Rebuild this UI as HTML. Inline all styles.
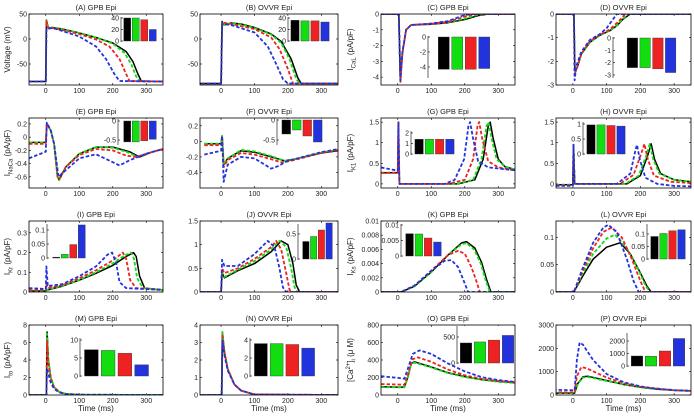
<!DOCTYPE html>
<html><head><meta charset="utf-8"><style>
html,body{margin:0;padding:0;background:#fff;}
svg{display:block;font-family:"Liberation Sans",sans-serif;}
</style></head><body>
<svg id="fig" width="694" height="417" viewBox="0 0 694 417" xmlns="http://www.w3.org/2000/svg"></svg>
<script>
// ---- data: curves [time ms, value] ----
const A_k=[[-50,-85],[0,-85],[2,38],[8,22],[20,23],[50,20],[100,12],[150,3],[200,-8],[240,-25],[260,-45],[275,-70],[285,-84],[350,-85]];
const A_g=[[-50,-85],[0,-85],[2,38],[8,22],[20,23],[50,20],[100,12],[150,3],[200,-9],[235,-28],[255,-50],[270,-75],[280,-85],[350,-85]];
const A_r=[[-50,-85],[0,-85],[2,36],[8,21],[20,22],[50,18],[100,10],[150,-1],[190,-15],[220,-40],[240,-70],[250,-84],[350,-85]];
const A_b=[[-50,-85],[0,-85],[2,20],[20,22],[50,16],[100,5],[150,-15],[180,-40],[205,-70],[220,-84],[350,-85]];
const B_k=[[-75,-89],[0,-89],[3,35],[8,28],[30,32],[60,30],[100,23],[150,10],[180,-5],[210,-40],[230,-78],[240,-89],[350,-89]];
const B_g=[[-75,-89],[0,-89],[3,34],[8,28],[30,31],[60,29],[100,22],[150,9],[180,-8],[205,-40],[225,-80],[235,-89],[350,-89]];
const B_r=[[-75,-89],[0,-89],[3,33],[30,30],[100,20],[150,3],[175,-20],[200,-60],[215,-89],[350,-89]];
const B_b=[[-75,-89],[0,-89],[3,30],[30,28],[100,13],[140,-15],[165,-50],[185,-80],[200,-89],[350,-89]];
const C_k=[[-50,0],[3,0],[8,-4.3],[14,-2.5],[25,-1.0],[40,-0.7],[100,-0.65],[150,-0.55],[200,-0.35],[240,-0.1],[270,0],[350,0]];
const C_g=[[-50,0],[3,0],[8,-4.3],[14,-2.5],[25,-1.0],[40,-0.7],[100,-0.64],[150,-0.52],[200,-0.3],[230,-0.1],[260,0],[350,0]];
const C_r=[[-50,0],[3,0],[8,-4.3],[14,-2.5],[25,-1.0],[40,-0.7],[100,-0.62],[150,-0.5],[180,-0.3],[210,-0.1],[240,0],[350,0]];
const C_b=[[-50,0],[3,0],[8,-4.2],[14,-2.4],[25,-1.0],[40,-0.7],[100,-0.6],[150,-0.45],[170,-0.3],[200,-0.05],[230,0],[350,0]];
const D_k=[[-50,0],[3,0],[6,-2.4],[12,-2.3],[25,-1.7],[50,-1.2],[80,-0.9],[110,-0.7],[130,-0.5],[150,-0.2],[170,0],[350,0]];
const D_g=[[-50,0],[3,0],[6,-2.4],[12,-2.3],[25,-1.7],[50,-1.2],[80,-0.9],[110,-0.68],[130,-0.48],[148,-0.2],[165,0],[350,0]];
const D_r=[[-50,0],[3,0],[6,-2.5],[12,-2.3],[25,-1.7],[50,-1.15],[80,-0.88],[110,-0.65],[140,-0.25],[155,0],[350,0]];
const D_b=[[-50,0],[3,0],[5,-2.8],[10,-2.2],[25,-1.6],[50,-1.1],[80,-0.85],[100,-0.6],[115,-0.3],[130,0],[350,0]];
const E_k=[[-50,-0.08],[0,-0.08],[3,0.2],[15,0.1],[25,-0.1],[35,-0.6],[40,-0.65],[60,-0.45],[100,-0.25],[150,-0.15],[200,-0.15],[250,-0.22],[280,-0.3],[320,-0.22],[350,-0.18]];
const E_g=[[-50,-0.08],[0,-0.08],[3,0.2],[15,0.1],[25,-0.1],[35,-0.6],[40,-0.65],[60,-0.45],[100,-0.25],[150,-0.15],[200,-0.16],[245,-0.23],[275,-0.3],[320,-0.22],[350,-0.18]];
const E_r=[[-50,-0.1],[0,-0.1],[3,0.2],[15,0.1],[25,-0.1],[35,-0.6],[40,-0.63],[60,-0.45],[100,-0.27],[150,-0.18],[200,-0.2],[240,-0.28],[270,-0.3],[300,-0.25],[350,-0.18]];
const E_b=[[-50,-0.32],[0,-0.22],[3,0.22],[15,0.1],[25,-0.1],[38,-0.6],[60,-0.5],[100,-0.32],[150,-0.26],[200,-0.38],[220,-0.43],[250,-0.35],[300,-0.25],[350,-0.18]];
const F_k=[[-50,-0.03],[0,-0.03],[3,0.07],[8,-0.3],[20,-0.22],[60,-0.12],[100,-0.14],[150,-0.2],[190,-0.25],[220,-0.23],[300,-0.15],[350,-0.12]];
const F_g=[[-50,-0.03],[0,-0.03],[3,0.07],[8,-0.3],[20,-0.22],[60,-0.11],[100,-0.13],[150,-0.19],[190,-0.25],[220,-0.23],[300,-0.14],[350,-0.11]];
const F_r=[[-50,-0.05],[0,-0.05],[3,0.07],[8,-0.33],[20,-0.24],[60,-0.15],[100,-0.17],[150,-0.23],[180,-0.27],[210,-0.25],[300,-0.15],[350,-0.11]];
const F_b=[[-50,-0.17],[0,-0.12],[3,0.07],[8,-0.52],[20,-0.3],[60,-0.2],[100,-0.22],[150,-0.35],[170,-0.32],[200,-0.25],[300,-0.14],[350,-0.1]];
const G_k=[[-50,0.27],[0,0.27],[2,1.5],[5,0],[180,0],[230,0.1],[255,0.6],[270,1.4],[276,1.5],[285,1.1],[300,0.6],[320,0.42],[350,0.35]];
const G_g=[[-50,0.27],[0,0.27],[2,1.5],[5,0],[175,0],[225,0.1],[250,0.6],[265,1.4],[271,1.5],[280,1.1],[295,0.6],[320,0.42],[350,0.35]];
const G_r=[[-50,0.27],[0,0.27],[2,1.5],[5,0],[150,0],[200,0.1],[225,0.6],[238,1.4],[243,1.5],[252,1.1],[270,0.55],[300,0.4],[350,0.33]];
const G_b=[[-50,0.4],[0,0.32],[2,1.5],[5,0],[140,0],[170,0.1],[198,0.6],[211,1.4],[216,1.5],[225,1.1],[240,0.55],[270,0.4],[350,0.33]];
const H_k=[[-50,-0.02],[0,-0.02],[2,0.95],[5,0],[160,0],[200,0.2],[222,0.7],[232,0.97],[242,0.6],[260,0.25],[300,0.1],[350,0.05]];
const H_g=[[-50,-0.02],[0,-0.02],[2,0.95],[5,0],[155,0],[195,0.2],[218,0.7],[228,0.97],[238,0.6],[256,0.25],[300,0.1],[350,0.05]];
const H_r=[[-50,-0.03],[0,-0.03],[2,0.95],[5,0],[140,0],[180,0.22],[203,0.75],[212,0.97],[222,0.6],[240,0.2],[290,0.05],[350,0.02]];
const H_b=[[-50,-0.05],[0,-0.05],[2,0.95],[5,0],[130,0],[170,0.25],[185,0.8],[190,0.95],[198,0.6],[215,0.15],[250,0],[300,-0.05],[350,-0.06]];
const I_k=[[-50,0.005],[0,0.005],[5,0.01],[50,0.03],[100,0.06],[150,0.095],[200,0.135],[240,0.18],[262,0.2],[270,0.18],[280,0.08],[295,0.02],[350,0.01]];
const I_g=[[-50,0.006],[0,0.006],[5,0.012],[50,0.032],[100,0.062],[150,0.1],[200,0.145],[235,0.185],[255,0.2],[263,0.17],[273,0.07],[290,0.02],[350,0.01]];
const I_r=[[-50,0.01],[0,0.01],[2,0.04],[6,0.02],[50,0.035],[100,0.07],[150,0.11],[200,0.16],[230,0.2],[240,0.17],[252,0.06],[270,0.02],[350,0.012]];
const I_b=[[-50,0.02],[0,0.015],[2,0.13],[6,0.03],[50,0.04],[100,0.08],[150,0.13],[185,0.19],[198,0.2],[210,0.15],[220,0.05],[240,0.02],[350,0.01]];
const J_k=[[-75,0],[0,0],[3,0.4],[10,0.3],[50,0.45],[100,0.6],[150,0.85],[180,1.08],[200,1.0],[215,0.6],[225,0.15],[235,0],[350,0]];
const J_g=[[-75,0],[0,0],[3,0.42],[10,0.32],[50,0.47],[100,0.65],[150,0.9],[175,1.08],[195,0.95],[210,0.5],[220,0.1],[228,0],[350,0]];
const J_r=[[-75,0],[0,0],[3,0.5],[10,0.4],[50,0.5],[100,0.7],[150,0.95],[165,1.08],[180,0.9],[195,0.4],[205,0.05],[210,0],[350,0]];
const J_b=[[-75,0],[0,0],[3,0.68],[10,0.55],[50,0.55],[100,0.8],[140,1.08],[160,0.95],[175,0.5],[185,0.1],[195,0],[350,0]];
const K_k=[[-50,0],[10,0],[50,0.0008],[100,0.0028],[150,0.0052],[190,0.0069],[205,0.0071],[230,0.0062],[250,0.0042],[265,0.0018],[278,0],[350,0]];
const K_g=[[-50,0],[10,0],[50,0.0008],[100,0.0028],[150,0.0052],[190,0.0067],[205,0.0069],[228,0.006],[248,0.004],[262,0.0017],[275,0],[350,0]];
const K_r=[[-50,0],[10,0],[50,0.0009],[100,0.003],[150,0.0052],[180,0.0058],[200,0.0054],[220,0.0035],[235,0.0015],[245,0],[350,0]];
const K_b=[[-50,0],[10,0],[50,0.0009],[100,0.003],[140,0.0044],[160,0.0045],[180,0.0035],[195,0.0018],[210,0],[350,0]];
const L_k=[[-75,0],[3,0],[30,0.03],[60,0.06],[100,0.082],[140,0.09],[170,0.07],[200,0.035],[220,0.01],[232,0],[350,0]];
const L_g=[[-75,0],[3,0],[30,0.035],[60,0.07],[100,0.098],[125,0.105],[160,0.08],[195,0.04],[215,0.012],[228,0],[350,0]];
const L_r=[[-75,0],[3,0],[30,0.04],[60,0.08],[90,0.11],[115,0.118],[145,0.1],[175,0.06],[200,0.02],[215,0],[350,0]];
const L_b=[[-75,0],[3,0],[30,0.045],[60,0.09],[90,0.118],[105,0.123],[130,0.11],[160,0.06],[180,0.02],[195,0],[350,0]];
const M_k=[[-50,0],[2,0],[4,7.2],[8,4],[15,2],[25,0.9],[40,0.35],[60,0.12],[100,0.03],[350,0]];
const M_g=[[-50,0],[2,0],[4,7.0],[8,3.9],[15,2],[25,0.9],[40,0.35],[60,0.12],[100,0.03],[350,0]];
const M_r=[[-50,0],[2,0],[4,6.2],[8,3.6],[15,1.9],[25,0.85],[40,0.33],[60,0.12],[100,0.03],[350,0]];
const M_b=[[-50,0],[2,0],[4,3.0],[8,2.4],[15,1.4],[25,0.7],[40,0.3],[60,0.1],[100,0.03],[350,0]];
const N_k=[[-75,0],[2,0],[4,3.6],[10,2.5],[20,1.5],[40,0.6],[60,0.25],[100,0.03],[350,0]];
const N_g=[[-75,0],[2,0],[4,3.6],[10,2.5],[20,1.5],[40,0.6],[60,0.25],[100,0.03],[350,0]];
const N_r=[[-75,0],[2,0],[4,3.5],[10,2.45],[20,1.5],[40,0.6],[60,0.25],[100,0.03],[350,0]];
const N_b=[[-75,0],[2,0],[4,3.1],[10,2.3],[20,1.4],[40,0.6],[60,0.25],[100,0.03],[350,0]];
const O_k=[[-50,95],[0,90],[20,90],[30,200],[40,360],[50,380],[100,320],[150,255],[200,210],[250,175],[300,155],[350,140]];
const O_g=[[-50,90],[0,88],[20,88],[30,200],[40,350],[50,370],[100,315],[150,250],[200,205],[300,150],[350,138]];
const O_r=[[-50,125],[0,120],[20,115],[30,230],[45,410],[60,430],[100,380],[150,290],[200,225],[250,185],[300,160],[350,145]];
const O_b=[[-50,215],[0,195],[20,185],[30,300],[45,470],[65,510],[100,470],[150,360],[200,270],[250,205],[300,170],[350,150]];
const P_k=[[-75,80],[0,80],[5,80],[15,500],[30,780],[45,800],[100,620],[150,450],[200,330],[250,250],[300,200],[350,175]];
const P_g=[[-75,80],[5,80],[15,480],[30,750],[45,770],[100,600],[200,320],[300,195],[350,172]];
const P_r=[[-75,120],[5,110],[12,800],[25,1200],[40,1150],[100,750],[150,500],[200,350],[300,200],[350,175]];
const P_b=[[-75,230],[5,200],[12,1500],[20,2250],[30,2150],[60,1500],[100,900],[150,550],[200,370],[250,260],[300,210],[350,180]];
// ---- inset bar values (black, green, red, blue) ----
const A_bars=[40,40,37,20], B_bars=[36,35,35,33], C_bars=[-4.3,-4.3,-4.3,-4.2], D_bars=[-2.4,-2.4,-2.5,-2.8];
const E_bars=[-0.55,-0.55,-0.52,-0.48], F_bars=[-0.35,-0.25,-0.4,-0.55], G_bars=[1.4,1.4,1.4,1.4], H_bars=[0.97,0.97,0.95,0.93];
const I_bars=[0.003,0.013,0.048,0.118], J_bars=[0.35,0.45,0.58,0.72], K_bars=[0.0072,0.0071,0.0058,0.0045], L_bars=[0.09,0.102,0.113,0.117];
const M_bars=[7.3,7.1,6.3,3.1], N_bars=[3.6,3.6,3.5,3.1], O_bars=[385,405,440,530], P_bars=[800,780,1200,2200];
const xTicks=[0,100,200,300];

const NS="http://www.w3.org/2000/svg";
const svg=document.getElementById('fig');
function mk(tag,attrs,parent){const e=document.createElementNS(NS,tag);for(const k in attrs)e.setAttribute(k,attrs[k]);(parent||svg).appendChild(e);return e;}
const cols=[[29,163,-50,350],[200,338,-63,350],[381,515,-50,350],[556,691,-50,350]];
const rows=[[14,85],[118,188],[221,292],[325,395]];
const colors=['#000000','#11dd11','#ee2222','#2233dd'];
const names=['black','green','red','blue'];
const panels=[
{id:'A',t:'(A) GPB Epi',c:0,r:0,y0:-92,y1:50,yt:[-50,0,50],yl:['Voltage (mV)'],s:[A_k,A_g,A_r,A_b],b:A_bars,ax:121,bx:[123,157],iv:[0,41,40,18],ib:[17,42],it:[0,20,40]},
{id:'B',t:'(B) OVVR Epi',c:1,r:0,y0:-92,y1:50,yt:[-50,0,50],s:[B_k,B_g,B_r,B_b],b:B_bars,ax:288,bx:[290,330],iv:[0,41,40,18],ib:[17,42],it:[0,20,40]},
{id:'C',t:'(C) GPB Epi',c:2,r:0,y0:-4.5,y1:0,yt:[-4,-3,-2,-1,0],yl:['I','CaL',' (pA/pF)'],s:[C_k,C_g,C_r,C_b],b:C_bars,ax:428,bx:[437,491],iv:[0,37,-4,67],ib:[36,78],it:[0,-2,-4]},
{id:'D',t:'(D) OVVR Epi',c:3,r:0,y0:-3,y1:0,yt:[-3,-2,-1,0],s:[D_k,D_g,D_r,D_b],b:D_bars,ax:613,bx:[626,677],iv:[0,38,-3,75],ib:[37,78],it:[0,-1,-2,-3]},
{id:'E',t:'(E) GPB Epi',c:0,r:1,y0:-0.77,y1:0.29,yt:[-0.6,-0.4,-0.2,0,0.2],yl:['I','NaCa',' (pA/pF)'],s:[E_k,E_g,E_r,E_b],b:E_bars,ax:118,bx:[123,157],iv:[0,121,-0.5,140],ib:[119,145],it:[0,-0.5]},
{id:'F',t:'(F) OVVR Epi',c:1,r:1,y0:-0.6,y1:0.3,yt:[-0.4,-0.2,0,0.2],s:[F_k,F_g,F_r,F_b],b:F_bars,ax:277,bx:[281,323],iv:[0,120,-0.5,140],ib:[119,145],it:[0,-0.5]},
{id:'G',t:'(G) GPB Epi',c:2,r:1,y0:-0.1,y1:1.6,yt:[0,0.5,1,1.5],yl:['I','K1',' (pA/pF)'],s:[G_k,G_g,G_r,G_b],b:G_bars,ax:411,bx:[414,455],iv:[0,154,2,133],ib:[131,155],it:[0,1,2]},
{id:'H',t:'(H) OVVR Epi',c:3,r:1,y0:-0.1,y1:1.6,yt:[0,0.5,1,1.5],s:[H_k,H_g,H_r,H_b],b:H_bars,ax:583,bx:[586,626],iv:[0,154,1,124],ib:[122,155],it:[0,0.5,1]},
{id:'I',t:'(I) GPB Epi',c:0,r:2,y0:0,y1:0.36,yt:[0,0.1,0.2,0.3],yl:['I','Kr',' (pA/pF)'],s:[I_k,I_g,I_r,I_b],b:I_bars,ax:47,bx:[52,86],iv:[0,258,0.1,230],ib:[224,259],it:[0,0.05,0.1]},
{id:'J',t:'(J) OVVR Epi',c:1,r:2,y0:0,y1:1.5,yt:[0,0.5,1,1.5],s:[J_k,J_g,J_r,J_b],b:J_bars,ax:298,bx:[302,333],iv:[0,259,0.5,234],ib:[224,260],it:[0,0.5]},
{id:'K',t:'(K) GPB Epi',c:2,r:2,y0:0,y1:0.01,yt:[0,0.002,0.004,0.006,0.008,0.01],yl:['I','Ks',' (pA/pF)'],s:[K_k,K_g,K_r,K_b],b:K_bars,ax:401,bx:[405,442],iv:[0,256,0.01,225],ib:[224,257],it:[0,0.005,0.01]},
{id:'L',t:'(L) OVVR Epi',c:3,r:2,y0:0,y1:0.13,yt:[0,0.05,0.1],s:[L_k,L_g,L_r,L_b],b:L_bars,ax:647,bx:[650,686],iv:[0,259,0.1,234],ib:[224,260],it:[0,0.05,0.1]},
{id:'M',t:'(M) GPB Epi',c:0,r:3,y0:0,y1:8,yt:[0,2,4,6,8],yl:['I','to',' (pA/pF)'],s:[M_k,M_g,M_r,M_b],b:M_bars,ax:80,bx:[83,150],iv:[0,376,10,340],ib:[338,377],it:[0,5,10]},
{id:'N',t:'(N) OVVR Epi',c:1,r:3,y0:0,y1:4,yt:[0,1,2,3,4],s:[N_k,N_g,N_r,N_b],b:N_bars,ax:250,bx:[253,316],iv:[0,376,4,340],ib:[338,377],it:[0,2,4]},
{id:'O',t:'(O) GPB Epi',c:2,r:3,y0:0,y1:800,yt:[0,200,400,600,800],yl:['[Ca','2+',']','i',' (\u03bc M)'],s:[O_k,O_g,O_r,O_b],b:O_bars,ax:457,bx:[459,515],iv:[0,363,500,337],ib:[326,364],it:[0,500]},
{id:'P',t:'(P) OVVR Epi',c:3,r:3,y0:0,y1:3000,yt:[0,1000,2000,3000],s:[P_k,P_g,P_r,P_b],b:P_bars,ax:627,bx:[630,686],iv:[0,366,2000,341],ib:[333,367],it:[0,1000,2000]}
];
const fmt=v=>String(+v.toFixed(4));
panels.forEach(p=>{
  const [L,R,xmin,xmax]=cols[p.c];const [T,B]=rows[p.r];
  const X=t=>L+(t-xmin)/(xmax-xmin)*(R-L);
  const Y=v=>B-(v-p.y0)/(p.y1-p.y0)*(B-T);
  const g=mk('g',{});
  
  
  const cp=mk('clipPath',{id:'cp'+p.id},g);mk('rect',{x:L,y:T,width:R-L,height:B-T},cp);
  const title=mk('text',{x:(L+R)/2,y:T-4,'text-anchor':'middle','font-size':'7.5',fill:'#222'},g);title.textContent=p.t;
  
  xTicks.forEach(t=>{const x=X(t);mk('line',{x1:x,x2:x,y1:B,y2:B-2,stroke:'#000','stroke-width':0.6},g);mk('line',{x1:x,x2:x,y1:T,y2:T+2,stroke:'#000','stroke-width':0.6},g);
    const tx=mk('text',{x:x,y:B+8,'text-anchor':'middle','font-size':'7',fill:'#222'},g);tx.textContent=t;
    });
  p.yt.forEach(v=>{const y=Y(v);mk('line',{x1:L,x2:L+2,y1:y,y2:y,stroke:'#000','stroke-width':0.6},g);mk('line',{x1:R,x2:R-2,y1:y,y2:y,stroke:'#000','stroke-width':0.6},g);
    const ty=mk('text',{x:L-2,y:y+2.5,'text-anchor':'end','font-size':'7',fill:'#222'},g);ty.textContent=fmt(v);
    });
  const cg=mk('g',{'clip-path':'url(#cp'+p.id+')'},g);
  p.s.forEach((ser,i)=>{
    const d=ser.map((pt,j)=>(j?'L':'M')+X(pt[0]).toFixed(1)+' '+Y(pt[1]).toFixed(1)).join(' ');
    const path=mk('path',{d:d,fill:'none',stroke:colors[i],'stroke-width':i?1.8:1.5,'stroke-dasharray':i?'3.5,2':'none','stroke-linejoin':'round'},cg);
    
    
  });
  // inset
  const [v0,py0,v1,py1]=p.iv;const IY=v=>py0+(v-v0)/(v1-v0)*(py1-py0);
  const ig=mk('g',{},g);
  
  
  mk('rect',{x:p.ax,y:p.ib[0],width:p.bx[1]-p.ax+2,height:p.ib[1]-p.ib[0],fill:'#fff'},ig);
  mk('line',{x1:p.ax,x2:p.ax,y1:p.ib[0],y2:p.ib[1],stroke:'#000','stroke-width':0.6},ig);
  p.it.forEach(v=>{const y=IY(v);mk('line',{x1:p.ax,x2:p.ax+2,y1:y,y2:y,stroke:'#000','stroke-width':0.6},ig);
    const tl=mk('text',{x:p.ax-2,y:y+2.5,'text-anchor':'end','font-size':'7',fill:'#222'},ig);tl.textContent=fmt(v);
    });
  const slot=(p.bx[1]-p.bx[0])/4,bw=slot*0.82;
  p.b.forEach((v,i)=>{const ya=IY(0),yb=IY(v);
    const r=mk('rect',{x:p.bx[0]+i*slot+(slot-bw)/2,y:Math.min(ya,yb),width:bw,height:Math.abs(yb-ya),fill:colors[i],stroke:'#333','stroke-width':0.4},ig);
    
    });
  mk('rect',{x:L,y:T,width:R-L,height:B-T,fill:'none',stroke:'#000','stroke-width':0.8},g);
  if(p.yl){const lx=p.c===0?10:353,ly=(T+B)/2;
    const yl=mk('text',{x:lx,y:ly,transform:'rotate(-90 '+lx+' '+ly+')','text-anchor':'middle','font-size':'8',fill:'#222'},g);
    
    if(p.yl.length===1)yl.textContent=p.yl[0];
    else if(p.yl.length===3){const a=mk('tspan',{},yl);a.textContent=p.yl[0];const b=mk('tspan',{dy:2.5,'font-size':'6'},yl);b.textContent=p.yl[1];const c=mk('tspan',{dy:-2.5},yl);c.textContent=p.yl[2];}
    else{const a=mk('tspan',{},yl);a.textContent=p.yl[0];const b=mk('tspan',{dy:-3,'font-size':'6'},yl);b.textContent=p.yl[1];const c=mk('tspan',{dy:3},yl);c.textContent=p.yl[2];const d=mk('tspan',{dy:2.5,'font-size':'6'},yl);d.textContent=p.yl[3];const e=mk('tspan',{dy:-2.5},yl);e.textContent=p.yl[4];}
  }
  if(p.r===3){const xt=mk('text',{x:(L+R)/2,y:411,'text-anchor':'middle','font-size':'8',fill:'#222'},g);xt.textContent='Time (ms)';
    }
});
</script>
</body></html>
